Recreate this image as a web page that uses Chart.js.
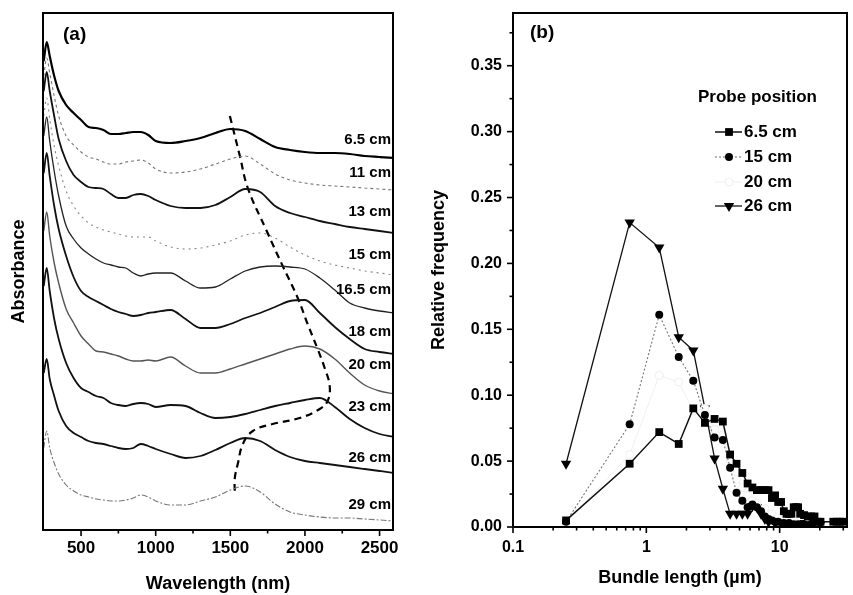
<!DOCTYPE html>
<html>
<head>
<meta charset="utf-8">
<script src="https://cdn.jsdelivr.net/npm/chart.js@4.4.1/dist/chart.umd.min.js"></script>
<style>
  html, body { margin: 0; padding: 0; background: #fff; }
  #wrap { position: relative; width: 853px; height: 595px; overflow: hidden; }
  #panelA { position: absolute; left: 0; top: 0; }
  #panelB { position: absolute; left: 420px; top: 0; }
</style>
</head>
<body>
<div id="wrap">
  <canvas id="panelA" width="420" height="595"></canvas>
  <canvas id="panelB" width="433" height="595"></canvas>
</div>
<script>
// ---------- panel (a): absorption spectra (offset, arbitrary units) ----------
const wavelengths = [250, 270, 290, 320, 350, 400, 450, 500, 550, 600, 650, 700, 750, 800, 850, 900, 950, 1000,
  1100, 1200, 1300, 1400, 1500, 1600, 1700, 1800, 1900, 2000, 2100, 2200, 2300, 2400, 2500, 2600];

const abs_6_5 = [4.69, 4.88, 4.74, 4.54, 4.39, 4.25, 4.17, 4.10, 4.03, 4.02, 4.00, 3.96, 3.96, 3.97, 3.98, 3.98, 3.95, 3.89,
  3.87, 3.89, 3.92, 3.97, 4.01, 3.99, 3.91, 3.83, 3.80, 3.78, 3.77, 3.77, 3.76, 3.74, 3.73, 3.72];
const abs_11 = [4.54, 4.72, 4.57, 4.34, 4.14, 3.94, 3.85, 3.78, 3.73, 3.71, 3.68, 3.66, 3.66, 3.68, 3.69, 3.70, 3.67, 3.61,
  3.57, 3.58, 3.61, 3.66, 3.71, 3.74, 3.66, 3.56, 3.50, 3.47, 3.45, 3.44, 3.43, 3.42, 3.41, 3.40];
const abs_13 = [4.39, 4.58, 4.39, 4.14, 3.91, 3.69, 3.55, 3.48, 3.43, 3.42, 3.41, 3.36, 3.32, 3.32, 3.35, 3.36, 3.34, 3.30,
  3.24, 3.22, 3.22, 3.25, 3.33, 3.41, 3.38, 3.24, 3.17, 3.13, 3.09, 3.06, 3.03, 3.01, 2.99, 2.97];
const abs_15 = [4.14, 4.32, 4.11, 3.84, 3.64, 3.39, 3.24, 3.14, 3.07, 3.03, 3.00, 2.98, 2.96, 2.94, 2.93, 2.93, 2.93, 2.89,
  2.83, 2.81, 2.82, 2.85, 2.89, 2.95, 2.97, 2.92, 2.83, 2.75, 2.69, 2.65, 2.62, 2.59, 2.57, 2.55];
const abs_16_5 = [3.94, 4.13, 3.89, 3.59, 3.34, 3.04, 2.91, 2.82, 2.76, 2.71, 2.67, 2.65, 2.63, 2.62, 2.57, 2.54, 2.56, 2.57,
  2.57, 2.49, 2.42, 2.43, 2.51, 2.59, 2.63, 2.64, 2.63, 2.61, 2.52, 2.40, 2.27, 2.22, 2.19, 2.17];
const abs_18 = [3.57, 3.77, 3.54, 3.24, 3.01, 2.74, 2.53, 2.39, 2.33, 2.29, 2.25, 2.21, 2.18, 2.16, 2.14, 2.15, 2.17, 2.18,
  2.20, 2.11, 2.02, 2.02, 2.06, 2.12, 2.17, 2.23, 2.29, 2.30, 2.17, 2.03, 1.91, 1.81, 1.78, 1.76];
const abs_20 = [2.99, 3.18, 2.94, 2.67, 2.47, 2.21, 2.07, 1.94, 1.86, 1.79, 1.78, 1.76, 1.74, 1.71, 1.69, 1.69, 1.70, 1.69,
  1.73, 1.64, 1.57, 1.57, 1.61, 1.66, 1.71, 1.76, 1.81, 1.84, 1.81, 1.71, 1.57, 1.45, 1.39, 1.36];
const abs_23 = [2.44, 2.62, 2.39, 2.11, 1.91, 1.67, 1.52, 1.42, 1.38, 1.34, 1.32, 1.27, 1.25, 1.24, 1.26, 1.27, 1.26, 1.23,
  1.25, 1.24, 1.17, 1.12, 1.13, 1.16, 1.20, 1.24, 1.27, 1.30, 1.32, 1.23, 1.11, 1.02, 0.96, 0.93];
const abs_26 = [1.57, 1.71, 1.51, 1.34, 1.19, 1.04, 0.97, 0.93, 0.89, 0.87, 0.86, 0.84, 0.82, 0.81, 0.82, 0.86, 0.84, 0.81,
  0.76, 0.72, 0.74, 0.80, 0.87, 0.92, 0.89, 0.80, 0.73, 0.69, 0.67, 0.65, 0.63, 0.61, 0.59, 0.57];
const abs_29 = [0.82, 0.99, 0.82, 0.67, 0.56, 0.45, 0.39, 0.35, 0.33, 0.31, 0.30, 0.29, 0.29, 0.30, 0.32, 0.35, 0.33, 0.29,
  0.25, 0.25, 0.29, 0.33, 0.40, 0.44, 0.38, 0.26, 0.18, 0.15, 0.13, 0.12, 0.12, 0.11, 0.10, 0.09];

const curveLabels = ['6.5 cm', '11 cm', '13 cm', '15 cm', '16.5 cm', '18 cm', '20 cm', '23 cm', '26 cm', '29 cm'];
const curveLabelLevels = [3.90, 3.57, 3.18, 2.75, 2.40, 1.98, 1.65, 1.23, 0.72, 0.25];

// dashed guide through the NIR peak of each spectrum
const peakTrackNm = [1497, 1564, 1617, 1744, 1851, 1952, 2018, 2085, 2132, 2166, 2152, 2099, 1965, 1784, 1651, 1584, 1550, 1530, 1530];
const peakTrackAbs = [4.14, 3.74, 3.42, 2.99, 2.64, 2.32, 2.06, 1.81, 1.62, 1.44, 1.29, 1.21, 1.12, 1.06, 0.99, 0.86, 0.66, 0.52, 0.37];

const aMajorTicks = [500, 1000, 1500, 2000, 2500];
const aMinorTicks = [750, 1250, 1750, 2250];

// ---------- panel (b): bundle length distributions ----------
const len_6_5 = [0.25, 0.75, 1.25, 1.75, 2.25, 2.75, 3.25, 3.75, 4.25, 4.75, 5.25, 5.75, 6.25, 6.75, 7.25, 7.75, 8.25, 8.75,
  9.25, 9.75, 10.25, 10.75, 11.25, 11.75, 12.25, 12.75, 13.25, 13.75, 14.25, 15.25, 16.25, 17.25, 18.25, 19.25, 20.25,
  25.25, 26.75, 28.25, 29.75];
const freq_6_5 = [0.005, 0.048, 0.072, 0.063, 0.090, 0.079, 0.082, 0.080, 0.055, 0.048, 0.041, 0.033, 0.030, 0.028, 0.028,
  0.028, 0.028, 0.022, 0.024, 0.019, 0.019, 0.012, 0.010, 0.010, 0.010, 0.015, 0.015, 0.015, 0.010, 0.009, 0.008, 0.008,
  0.008, 0.004, 0.004, 0.004, 0.004, 0.004, 0.004];

const len_15 = [0.25, 0.75, 1.25, 1.75, 2.25, 2.75, 3.25, 3.75, 4.25, 4.75, 5.25, 5.75, 6.25, 6.75, 7.25, 7.75, 8.25, 8.75,
  9.25, 9.75, 10.75, 11.75, 12.75, 13.75, 15.25, 17.25];
const freq_15 = [0.004, 0.078, 0.161, 0.129, 0.111, 0.085, 0.068, 0.066, 0.045, 0.026, 0.020, 0.015, 0.017, 0.015, 0.012,
  0.008, 0.006, 0.005, 0.004, 0.004, 0.003, 0.003, 0.002, 0.002, 0.002, 0.002];

const len_20 = [0.25, 0.75, 1.25, 1.75, 2.25, 2.75, 3.25, 3.75, 4.25, 4.75, 5.25, 5.75, 6.25, 6.75, 7.75, 8.75, 9.75, 11.25, 13.25];
const freq_20 = [0.003, 0.055, 0.115, 0.110, 0.088, 0.090, 0.074, 0.070, 0.050, 0.036, 0.030, 0.024, 0.020, 0.018, 0.014,
  0.010, 0.007, 0.005, 0.003];

const len_26 = [0.25, 0.75, 1.25, 1.75, 2.25, 2.75, 3.25, 3.75, 4.25, 4.75, 5.25, 5.75, 6.25, 6.75, 7.25, 7.75, 8.25,
  9.25, 10.25, 11.25, 12.25, 14.25, 16.25, 18.25, 20.25];
const freq_26 = [0.048, 0.231, 0.212, 0.144, 0.134, 0.090, 0.052, 0.029, 0.010, 0.010, 0.010, 0.010, 0.016, 0.015, 0.010,
  0.006, 0.004, 0.003, 0.003, 0.003, 0.002, 0.003, 0.002, 0.003, 0.002];

const bSeriesNames = ['6.5 cm', '15 cm', '20 cm', '26 cm'];
const bMajorX = [0.1, 1, 10];
const bMinorX = [0.2, 0.3, 0.4, 0.5, 0.6, 0.7, 0.8, 0.9, 2, 3, 4, 5, 6, 7, 8, 9, 20, 30];
const bMajorY = [0, 0.05, 0.10, 0.15, 0.20, 0.25, 0.30, 0.35];
const bMinorY = [0.025, 0.075, 0.125, 0.175, 0.225, 0.275, 0.325, 0.375];

const FONT = '"Liberation Sans", Arial, Helvetica, sans-serif';
Chart.defaults.font.family = FONT;
Chart.defaults.font.weight = 'bold';
Chart.defaults.color = '#000';

const toPoints = (xs, ys) => xs.map((x, i) => ({x: x, y: ys[i]}));

// frame, outward tick marks, panel letter
const frameTicks = {
  id: 'frameTicks',
  afterDraw(chart, args, o) {
    const {ctx, chartArea: ca, scales} = chart;
    ctx.save();
    ctx.strokeStyle = '#000';
    ctx.lineWidth = 1.6;
    const tick = (x1, y1, x2, y2) => { ctx.beginPath(); ctx.moveTo(x1, y1); ctx.lineTo(x2, y2); ctx.stroke(); };
    (o.xMajor || []).forEach(v => { const p = scales.x.getPixelForValue(v); tick(p, ca.bottom, p, ca.bottom + 6); });
    (o.xMinor || []).forEach(v => { const p = scales.x.getPixelForValue(v); tick(p, ca.bottom, p, ca.bottom + 3.5); });
    (o.yMajor || []).forEach(v => { const p = scales.y.getPixelForValue(v); tick(ca.left, p, ca.left - 6, p); });
    (o.yMinor || []).forEach(v => { const p = scales.y.getPixelForValue(v); tick(ca.left, p, ca.left - 3.5, p); });
    ctx.lineWidth = 2;
    ctx.strokeRect(ca.left, ca.top, ca.right - ca.left, ca.bottom - ca.top);
    ctx.fillStyle = '#000';
    ctx.font = 'bold 19px ' + FONT;
    ctx.textBaseline = 'middle';
    ctx.textAlign = 'left';
    ctx.fillText(o.letter, ca.left + o.letterDx, ca.top + o.letterDy);
    ctx.restore();
  }
};

// curve names at the right side of panel (a)
const spectrumNames = {
  id: 'spectrumNames',
  afterDatasetsDraw(chart) {
    const {ctx, chartArea: ca, scales} = chart;
    ctx.save();
    ctx.font = 'bold 15px ' + FONT;
    ctx.fillStyle = '#000';
    ctx.textAlign = 'right';
    ctx.textBaseline = 'middle';
    curveLabels.forEach((t, i) => {
      ctx.fillText(t, ca.right - 2, scales.y.getPixelForValue(curveLabelLevels[i]));
    });
    ctx.restore();
  }
};

const spectrumStyles = [
  {color: '#000', width: 2.2, dash: []},
  {color: '#777', width: 1.1, dash: [3, 3]},
  {color: '#111', width: 1.8, dash: []},
  {color: '#888', width: 1.1, dash: [2, 4]},
  {color: '#222', width: 1.3, dash: []},
  {color: '#111', width: 1.8, dash: []},
  {color: '#555', width: 1.4, dash: []},
  {color: '#111', width: 1.8, dash: []},
  {color: '#111', width: 1.8, dash: []},
  {color: '#777', width: 1.1, dash: [6, 2, 2, 2]}
];
const spectra = [abs_6_5, abs_11, abs_13, abs_15, abs_16_5, abs_18, abs_20, abs_23, abs_26, abs_29];

const datasetsA = spectra.map((s, i) => ({
  label: curveLabels[i],
  data: toPoints(wavelengths, s),
  borderColor: spectrumStyles[i].color,
  borderWidth: spectrumStyles[i].width,
  borderDash: spectrumStyles[i].dash,
  pointRadius: 0,
  cubicInterpolationMode: 'monotone',
  fill: false
}));
datasetsA.push({
  label: 'peak position',
  data: toPoints(peakTrackNm, peakTrackAbs),
  borderColor: '#000',
  borderWidth: 2.2,
  borderDash: [7, 5],
  pointRadius: 0,
  tension: 0.4,
  fill: false
});

new Chart(document.getElementById('panelA'), {
  type: 'line',
  data: {datasets: datasetsA},
  options: {
    responsive: false,
    animation: false,
    events: [],
    layout: {padding: {top: 13, right: 27, left: 0, bottom: 0}},
    plugins: {
      legend: {display: false},
      tooltip: {enabled: false},
      frameTicks: {xMajor: aMajorTicks, xMinor: aMinorTicks, letter: '(a)', letterDx: 20, letterDy: 22}
    },
    scales: {
      x: {
        type: 'linear', min: 245, max: 2590,
        grid: {display: false, drawTicks: false},
        border: {display: false},
        ticks: {font: {size: 17, weight: 'bold'}, color: '#000', padding: 8, maxRotation: 0, autoSkip: false,
          callback: v => String(v)},
        afterBuildTicks: s => { s.ticks = aMajorTicks.map(v => ({value: v})); },
        afterFit: s => { s.height = 65; s.paddingLeft = 0; s.paddingRight = 0; },
        title: {display: true, text: 'Wavelength (nm)', font: {size: 18, weight: 'bold'}, color: '#000',
          padding: {top: 0, bottom: 0}}
      },
      y: {
        type: 'linear', min: 0, max: 5.17,
        grid: {display: false, drawTicks: false},
        border: {display: false},
        ticks: {display: false},
        afterFit: s => { s.width = 43; s.paddingTop = 0; s.paddingBottom = 0; },
        title: {display: true, text: 'Absorbance', font: {size: 18, weight: 'bold'}, color: '#000',
          padding: {top: 8, bottom: 0}}
      }
    }
  },
  plugins: [frameTicks, spectrumNames]
});

// ---------- panel (b) ----------
const datasetsB = [
  {label: bSeriesNames[0], data: toPoints(len_6_5, freq_6_5), borderColor: '#111', borderWidth: 1.5, borderDash: [],
    pointStyle: 'rect', pointRadius: 5.5, pointRotation: 0, pointBackgroundColor: '#000', pointBorderColor: '#000', pointBorderWidth: 0},
  {label: bSeriesNames[1], data: toPoints(len_15, freq_15), borderColor: '#777', borderWidth: 1.1, borderDash: [2, 2],
    pointStyle: 'circle', pointRadius: 4, pointRotation: 0, pointBackgroundColor: '#000', pointBorderColor: '#000', pointBorderWidth: 0},
  {label: bSeriesNames[2], data: toPoints(len_20, freq_20), borderColor: '#f0f0f0', borderWidth: 1, borderDash: [],
    pointStyle: 'circle', pointRadius: 4, pointRotation: 0, pointBackgroundColor: '#fff', pointBorderColor: '#efefef', pointBorderWidth: 1},
  {label: bSeriesNames[3], data: toPoints(len_26, freq_26), borderColor: '#111', borderWidth: 1.3, borderDash: [],
    pointStyle: 'triangle', pointRadius: 6, pointRotation: 180, pointBackgroundColor: '#000', pointBorderColor: '#000', pointBorderWidth: 0}
];

function drawMarker(ctx, ds, x, y) {
  ctx.fillStyle = ds.pointBackgroundColor;
  ctx.strokeStyle = ds.pointBorderColor;
  if (Chart.helpers && Chart.helpers.drawPoint) {
    Chart.helpers.drawPoint(ctx, {pointStyle: ds.pointStyle, radius: ds.pointRadius, rotation: ds.pointRotation,
      borderWidth: ds.pointBorderWidth}, x, y);
  } else {
    ctx.beginPath();
    ctx.arc(x, y, ds.pointRadius, 0, Math.PI * 2);
    ctx.fill();
  }
}

const probeLegend = {
  id: 'probeLegend',
  afterDraw(chart) {
    const {ctx} = chart;
    ctx.save();
    ctx.font = 'bold 17px ' + FONT;
    ctx.fillStyle = '#000';
    ctx.textBaseline = 'middle';
    ctx.textAlign = 'left';
    ctx.fillText('Probe position', 278, 97);
    const rows = [132, 157, 182, 206];
    datasetsB.forEach((ds, i) => {
      const y = rows[i];
      ctx.strokeStyle = ds.borderColor;
      ctx.lineWidth = ds.borderWidth;
      ctx.setLineDash(ds.borderDash);
      ctx.beginPath(); ctx.moveTo(295, y); ctx.lineTo(322, y); ctx.stroke();
      ctx.setLineDash([]);
      drawMarker(ctx, ds, 309, y);
      ctx.fillStyle = '#000';
      ctx.fillText(ds.label, 324, y);
    });
    ctx.restore();
  }
};

new Chart(document.getElementById('panelB'), {
  type: 'line',
  data: {datasets: datasetsB},
  options: {
    responsive: false,
    animation: false,
    events: [],
    layout: {padding: {top: 13, right: 2, left: 0, bottom: 0}},
    plugins: {
      legend: {display: false},
      tooltip: {enabled: false},
      frameTicks: {xMajor: bMajorX, xMinor: bMinorX, yMajor: bMajorY, yMinor: bMinorY, letter: '(b)', letterDx: 17, letterDy: 20}
    },
    scales: {
      x: {
        type: 'logarithmic', min: 0.1, max: 32,
        grid: {display: false, drawTicks: false},
        border: {display: false},
        ticks: {font: {size: 16, weight: 'bold'}, color: '#000', padding: 11, maxRotation: 0, autoSkip: false,
          callback: v => String(v)},
        afterBuildTicks: s => { s.ticks = bMajorX.map(v => ({value: v})); },
        afterFit: s => { s.height = 68; s.paddingLeft = 0; s.paddingRight = 0; },
        title: {display: true, text: 'Bundle length (µm)', font: {size: 18, weight: 'bold'}, color: '#000',
          padding: {top: 0, bottom: 6}}
      },
      y: {
        type: 'linear', min: 0, max: 0.39,
        grid: {display: false, drawTicks: false},
        border: {display: false},
        ticks: {font: {size: 16, weight: 'bold'}, color: '#000', padding: 11, autoSkip: false,
          callback: v => v.toFixed(2)},
        afterBuildTicks: s => { s.ticks = bMajorY.map(v => ({value: v})); },
        afterFit: s => { s.width = 93; s.paddingTop = 0; s.paddingBottom = 0; },
        title: {display: true, text: 'Relative frequency', font: {size: 18, weight: 'bold'}, color: '#000',
          padding: {top: 8, bottom: 0}}
      }
    }
  },
  plugins: [frameTicks, probeLegend]
});
</script>
</body>
</html>
